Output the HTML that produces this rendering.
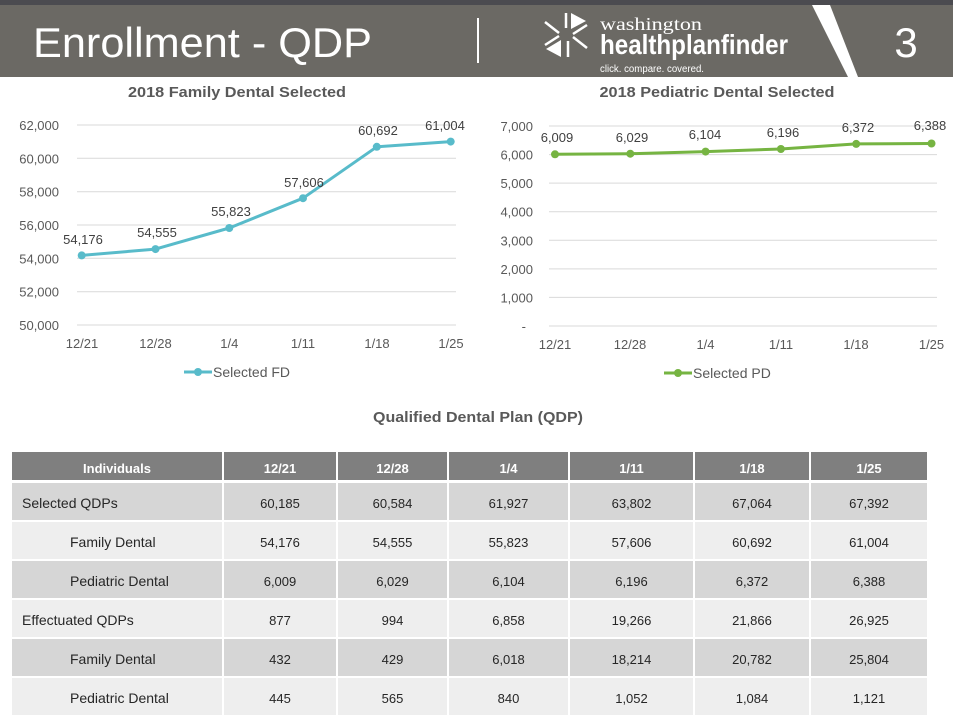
<!DOCTYPE html>
<html><head><meta charset="utf-8"><style>
html,body{margin:0;padding:0;background:#fff;}
svg{display:block;}
text{font-family:"Liberation Sans",Arial,sans-serif;}
</style></head><body>
<svg width="953" height="715" viewBox="0 0 953 715" xmlns="http://www.w3.org/2000/svg">
<!-- Header -->
<rect x="0" y="0" width="953" height="5" fill="#4b4b50"/>
<rect x="0" y="5" width="953" height="72" fill="#6b6964"/>
<text x="33" y="57" font-size="42" fill="#fff" textLength="339" lengthAdjust="spacingAndGlyphs">Enrollment - QDP</text>
<rect x="477" y="18" width="2" height="45" fill="#fff"/>
<!-- logo icon -->
<g fill="#fff" stroke="#fff">
<line x1="566" y1="13" x2="566" y2="28" stroke-width="2.5"/>
<polygon points="571,13 571,29 586,21" stroke="none"/>
<polygon points="561,40 561,57 546,49" stroke="none"/>
<line x1="568" y1="41" x2="568" y2="57" stroke-width="2.5"/>
<line x1="545" y1="22" x2="559" y2="33" stroke-width="2.5"/>
<line x1="545" y1="45" x2="559" y2="36" stroke-width="2.5"/>
<line x1="587" y1="25" x2="573" y2="34" stroke-width="2.5"/>
<line x1="587" y1="48" x2="573" y2="37" stroke-width="2.5"/>
</g>
<text x="600" y="30" font-size="18" fill="#fff" font-family="Liberation Serif,serif" textLength="102" lengthAdjust="spacingAndGlyphs" style="font-family:'Liberation Serif',serif">washington</text>
<text x="600" y="54" font-size="28" font-weight="bold" fill="#fff" textLength="188" lengthAdjust="spacingAndGlyphs">healthplanfinder</text>
<text x="600" y="72" font-size="10" fill="#fff" textLength="104" lengthAdjust="spacingAndGlyphs">click. compare. covered.</text>
<polygon points="812,5 830,5 858,77 848,77" fill="#fff"/>
<text x="906" y="57" font-size="42" fill="#fff" text-anchor="middle">3</text>

<!-- Left chart -->
<text x="237" y="97" font-size="15" font-weight="bold" fill="#595959" text-anchor="middle" textLength="218" lengthAdjust="spacingAndGlyphs">2018 Family Dental Selected</text>
<g stroke="#d9d9d9" stroke-width="1">
<line x1="77" y1="125" x2="456" y2="125"/>
<line x1="77" y1="158.3" x2="456" y2="158.3"/>
<line x1="77" y1="191.7" x2="456" y2="191.7"/>
<line x1="77" y1="225" x2="456" y2="225"/>
<line x1="77" y1="258.3" x2="456" y2="258.3"/>
<line x1="77" y1="291.7" x2="456" y2="291.7"/>
<line x1="77" y1="325" x2="456" y2="325"/>
</g>
<g font-size="13" fill="#595959" text-anchor="end">
<text x="59" y="130">62,000</text>
<text x="59" y="163.3">60,000</text>
<text x="59" y="196.7">58,000</text>
<text x="59" y="230">56,000</text>
<text x="59" y="263.3">54,000</text>
<text x="59" y="296.7">52,000</text>
<text x="59" y="330">50,000</text>
</g>
<g font-size="13" fill="#595959" text-anchor="middle">
<text x="82" y="348">12/21</text>
<text x="155.5" y="348">12/28</text>
<text x="229.3" y="348">1/4</text>
<text x="303" y="348">1/11</text>
<text x="377" y="348">1/18</text>
<text x="451" y="348">1/25</text>
</g>
<polyline points="81.7,255.4 155.5,249.1 229.3,228 303,198.2 376.8,146.8 450.7,141.6" fill="none" stroke="#58bbca" stroke-width="3" stroke-linejoin="round"/>
<g fill="#58bbca">
<circle cx="81.7" cy="255.4" r="4"/><circle cx="155.5" cy="249.1" r="4"/><circle cx="229.3" cy="228" r="4"/>
<circle cx="303" cy="198.2" r="4"/><circle cx="376.8" cy="146.8" r="4"/><circle cx="450.7" cy="141.6" r="4"/>
</g>
<g font-size="13" fill="#404040" text-anchor="middle">
<text x="83" y="244">54,176</text>
<text x="157" y="237">54,555</text>
<text x="231" y="216">55,823</text>
<text x="304" y="187">57,606</text>
<text x="378" y="135">60,692</text>
<text x="445" y="130">61,004</text>
</g>
<line x1="184" y1="372" x2="212" y2="372" stroke="#58bbca" stroke-width="3"/>
<circle cx="198" cy="372" r="4" fill="#58bbca"/>
<text x="213" y="377" font-size="14" fill="#595959">Selected FD</text>

<!-- Right chart -->
<text x="717" y="97" font-size="15" font-weight="bold" fill="#595959" text-anchor="middle" textLength="235" lengthAdjust="spacingAndGlyphs">2018 Pediatric Dental Selected</text>
<g stroke="#d9d9d9" stroke-width="1">
<line x1="549" y1="126" x2="937" y2="126"/>
<line x1="549" y1="154.6" x2="937" y2="154.6"/>
<line x1="549" y1="183.1" x2="937" y2="183.1"/>
<line x1="549" y1="211.7" x2="937" y2="211.7"/>
<line x1="549" y1="240.3" x2="937" y2="240.3"/>
<line x1="549" y1="268.9" x2="937" y2="268.9"/>
<line x1="549" y1="297.4" x2="937" y2="297.4"/>
<line x1="549" y1="326" x2="937" y2="326"/>
</g>
<g font-size="13" fill="#595959" text-anchor="end">
<text x="533" y="131">7,000</text>
<text x="533" y="159.6">6,000</text>
<text x="533" y="188.1">5,000</text>
<text x="533" y="216.7">4,000</text>
<text x="533" y="245.3">3,000</text>
<text x="533" y="273.9">2,000</text>
<text x="533" y="302.4">1,000</text>
<text x="526" y="331">-</text>
</g>
<g font-size="13" fill="#595959" text-anchor="middle">
<text x="555" y="349">12/21</text>
<text x="630" y="349">12/28</text>
<text x="705.5" y="349">1/4</text>
<text x="781" y="349">1/11</text>
<text x="856" y="349">1/18</text>
<text x="931.5" y="349">1/25</text>
</g>
<polyline points="555,154.3 630.3,153.7 705.6,151.6 780.9,149 856.2,143.9 931.5,143.5" fill="none" stroke="#76b442" stroke-width="3" stroke-linejoin="round"/>
<g fill="#76b442">
<circle cx="555" cy="154.3" r="4"/><circle cx="630.3" cy="153.7" r="4"/><circle cx="705.6" cy="151.6" r="4"/>
<circle cx="780.9" cy="149" r="4"/><circle cx="856.2" cy="143.9" r="4"/><circle cx="931.5" cy="143.5" r="4"/>
</g>
<g font-size="13" fill="#404040" text-anchor="middle">
<text x="557" y="142">6,009</text>
<text x="632" y="142">6,029</text>
<text x="705" y="139">6,104</text>
<text x="783" y="137">6,196</text>
<text x="858" y="132">6,372</text>
<text x="930" y="130">6,388</text>
</g>
<line x1="664" y1="373" x2="692" y2="373" stroke="#76b442" stroke-width="3"/>
<circle cx="678" cy="373" r="4" fill="#76b442"/>
<text x="693" y="378" font-size="14" fill="#595959">Selected PD</text>

<!-- Table title -->
<text x="478" y="422" font-size="15" font-weight="bold" fill="#595959" text-anchor="middle" textLength="210" lengthAdjust="spacingAndGlyphs">Qualified Dental Plan (QDP)</text>

<!-- Table -->
<g fill="#7f7f7f">
<rect x="12" y="452" width="210" height="28"/>
<rect x="224" y="452" width="112" height="28"/>
<rect x="338" y="452" width="109" height="28"/>
<rect x="449" y="452" width="119" height="28"/>
<rect x="570" y="452" width="123" height="28"/>
<rect x="695" y="452" width="114" height="28"/>
<rect x="811" y="452" width="116" height="28"/>
</g>
<g font-size="13" font-weight="bold" fill="#fff" text-anchor="middle">
<text x="117" y="473">Individuals</text>
<text x="280" y="473">12/21</text>
<text x="392.5" y="473">12/28</text>
<text x="508.5" y="473">1/4</text>
<text x="631.5" y="473">1/11</text>
<text x="752" y="473">1/18</text>
<text x="869" y="473">1/25</text>
</g>
<defs>
<g id="rowcells">
<rect x="12" y="0" width="210" height="37"/>
<rect x="224" y="0" width="112" height="37"/>
<rect x="338" y="0" width="109" height="37"/>
<rect x="449" y="0" width="119" height="37"/>
<rect x="570" y="0" width="123" height="37"/>
<rect x="695" y="0" width="114" height="37"/>
<rect x="811" y="0" width="116" height="37"/>
</g>
</defs>
<use href="#rowcells" y="483" fill="#d6d6d6"/>
<use href="#rowcells" y="522" fill="#eeeeee"/>
<use href="#rowcells" y="561" fill="#d6d6d6"/>
<use href="#rowcells" y="600" fill="#eeeeee"/>
<use href="#rowcells" y="639" fill="#d6d6d6"/>
<use href="#rowcells" y="678" fill="#eeeeee"/>

<g font-size="14" fill="#262626">
<text x="22" y="508">Selected QDPs</text>
<text x="70" y="547">Family Dental</text>
<text x="70" y="586">Pediatric Dental</text>
<text x="22" y="625">Effectuated QDPs</text>
<text x="70" y="664">Family Dental</text>
<text x="70" y="703">Pediatric Dental</text>
</g>
<g font-size="13" fill="#262626" text-anchor="middle">
<text x="280" y="508">60,185</text><text x="392.5" y="508">60,584</text><text x="508.5" y="508">61,927</text><text x="631.5" y="508">63,802</text><text x="752" y="508">67,064</text><text x="869" y="508">67,392</text>
<text x="280" y="547">54,176</text><text x="392.5" y="547">54,555</text><text x="508.5" y="547">55,823</text><text x="631.5" y="547">57,606</text><text x="752" y="547">60,692</text><text x="869" y="547">61,004</text>
<text x="280" y="586">6,009</text><text x="392.5" y="586">6,029</text><text x="508.5" y="586">6,104</text><text x="631.5" y="586">6,196</text><text x="752" y="586">6,372</text><text x="869" y="586">6,388</text>
<text x="280" y="625">877</text><text x="392.5" y="625">994</text><text x="508.5" y="625">6,858</text><text x="631.5" y="625">19,266</text><text x="752" y="625">21,866</text><text x="869" y="625">26,925</text>
<text x="280" y="664">432</text><text x="392.5" y="664">429</text><text x="508.5" y="664">6,018</text><text x="631.5" y="664">18,214</text><text x="752" y="664">20,782</text><text x="869" y="664">25,804</text>
<text x="280" y="703">445</text><text x="392.5" y="703">565</text><text x="508.5" y="703">840</text><text x="631.5" y="703">1,052</text><text x="752" y="703">1,084</text><text x="869" y="703">1,121</text>
</g>
</svg>
</body></html>
